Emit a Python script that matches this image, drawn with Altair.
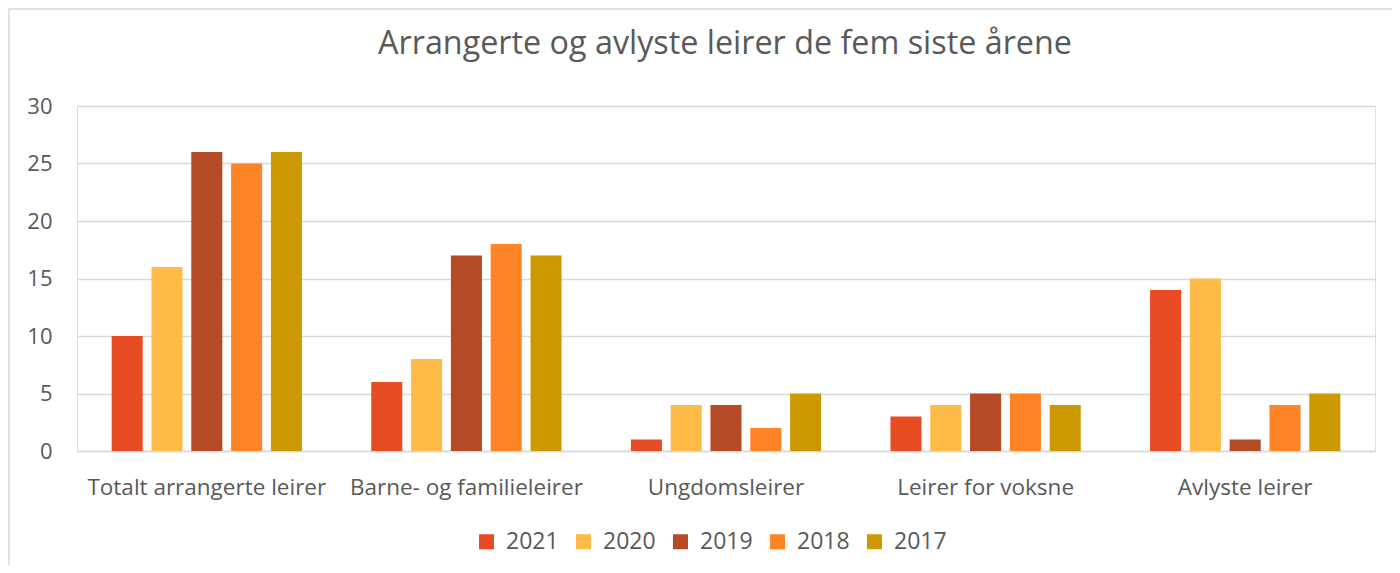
import altair as alt
import pandas as pd

categories = ["Totalt arrangerte leirer", "Barne- og familieleirer", "Ungdomsleirer",
              "Leirer for voksne", "Avlyste leirer"]
years = ["2021", "2020", "2019", "2018", "2017"]
colors = ["#E84C22", "#FFBB47", "#B54A26", "#FF8426", "#CC9900"]
values = {
    "2021": [10, 6, 1, 3, 14],
    "2020": [16, 8, 4, 4, 15],
    "2019": [26, 17, 4, 5, 1],
    "2018": [25, 18, 2, 5, 4],
    "2017": [26, 17, 5, 4, 5],
}
title_text = "Arrangerte og avlyste leirer de fem siste årene"

rows = []
for y in years:
    for c, v in zip(categories, values[y]):
        rows.append({"Kategori": c, "År": y, "Antall": v})
df = pd.DataFrame(rows)

FONT = "Open Sans"
GRAY = "#595959"
GRID = "#D9D9D9"
W, H = 1298, 345

bars = alt.Chart(df).mark_bar().encode(
    x=alt.X("Kategori:N", sort=categories,
            scale=alt.Scale(paddingInner=0.267, paddingOuter=0.1335),
            axis=alt.Axis(title=None, labelAngle=0, labelFontSize=22.5, labelFont=FONT,
                          labelColor=GRAY, labelPadding=25, ticks=False,
                          domainColor=GRID, domainWidth=1.5, labelLimit=400)),
    xOffset=alt.XOffset("År:N", sort=years,
                        scale=alt.Scale(paddingInner=0.22, paddingOuter=0)),
    y=alt.Y("Antall:Q", scale=alt.Scale(domain=[0, 30]),
            axis=alt.Axis(title=None, values=[0, 5, 10, 15, 20, 25, 30], labelFontSize=22,
                          labelFont=FONT, labelColor=GRAY, labelPadding=25, ticks=False,
                          domain=False, gridColor=GRID, gridWidth=1.5)),
    color=alt.Color("År:N", sort=years,
                    scale=alt.Scale(domain=years, range=colors),
                    legend=alt.Legend(title=None, orient="none", legendX=398, legendY=424,
                                      direction="horizontal", columns=5,
                                      symbolType="square", symbolSize=225,
                                      symbolStrokeWidth=0, labelFontSize=23,
                                      labelFont=FONT, labelColor=GRAY, labelOffset=8,
                                      columnPadding=13)),
)

one = pd.DataFrame({"k": [0]})
border = alt.Chart(one).mark_rect(fillOpacity=0, stroke=GRID, strokeWidth=1.5, clip=False).encode(
    x=alt.value(-68), x2=alt.value(W + 40), y=alt.value(-97), y2=alt.value(H + 140)
)
title = alt.Chart(one).mark_text(fontSize=32.3, font=FONT, color=GRAY, baseline="alphabetic",
                                 align="center").encode(
    x=alt.value(W / 2 - 1), y=alt.value(-52), text=alt.value(title_text)
)

chart = alt.layer(border, bars, title).properties(
    width=W, height=H,
    autosize=alt.AutoSizeParams(type="none"),
    padding={"left": 69, "top": 98, "right": 17, "bottom": 114},
).configure_view(stroke=None).configure(background="white")

chart.save("out.html", embed_options={"renderer": "svg", "actions": False})
